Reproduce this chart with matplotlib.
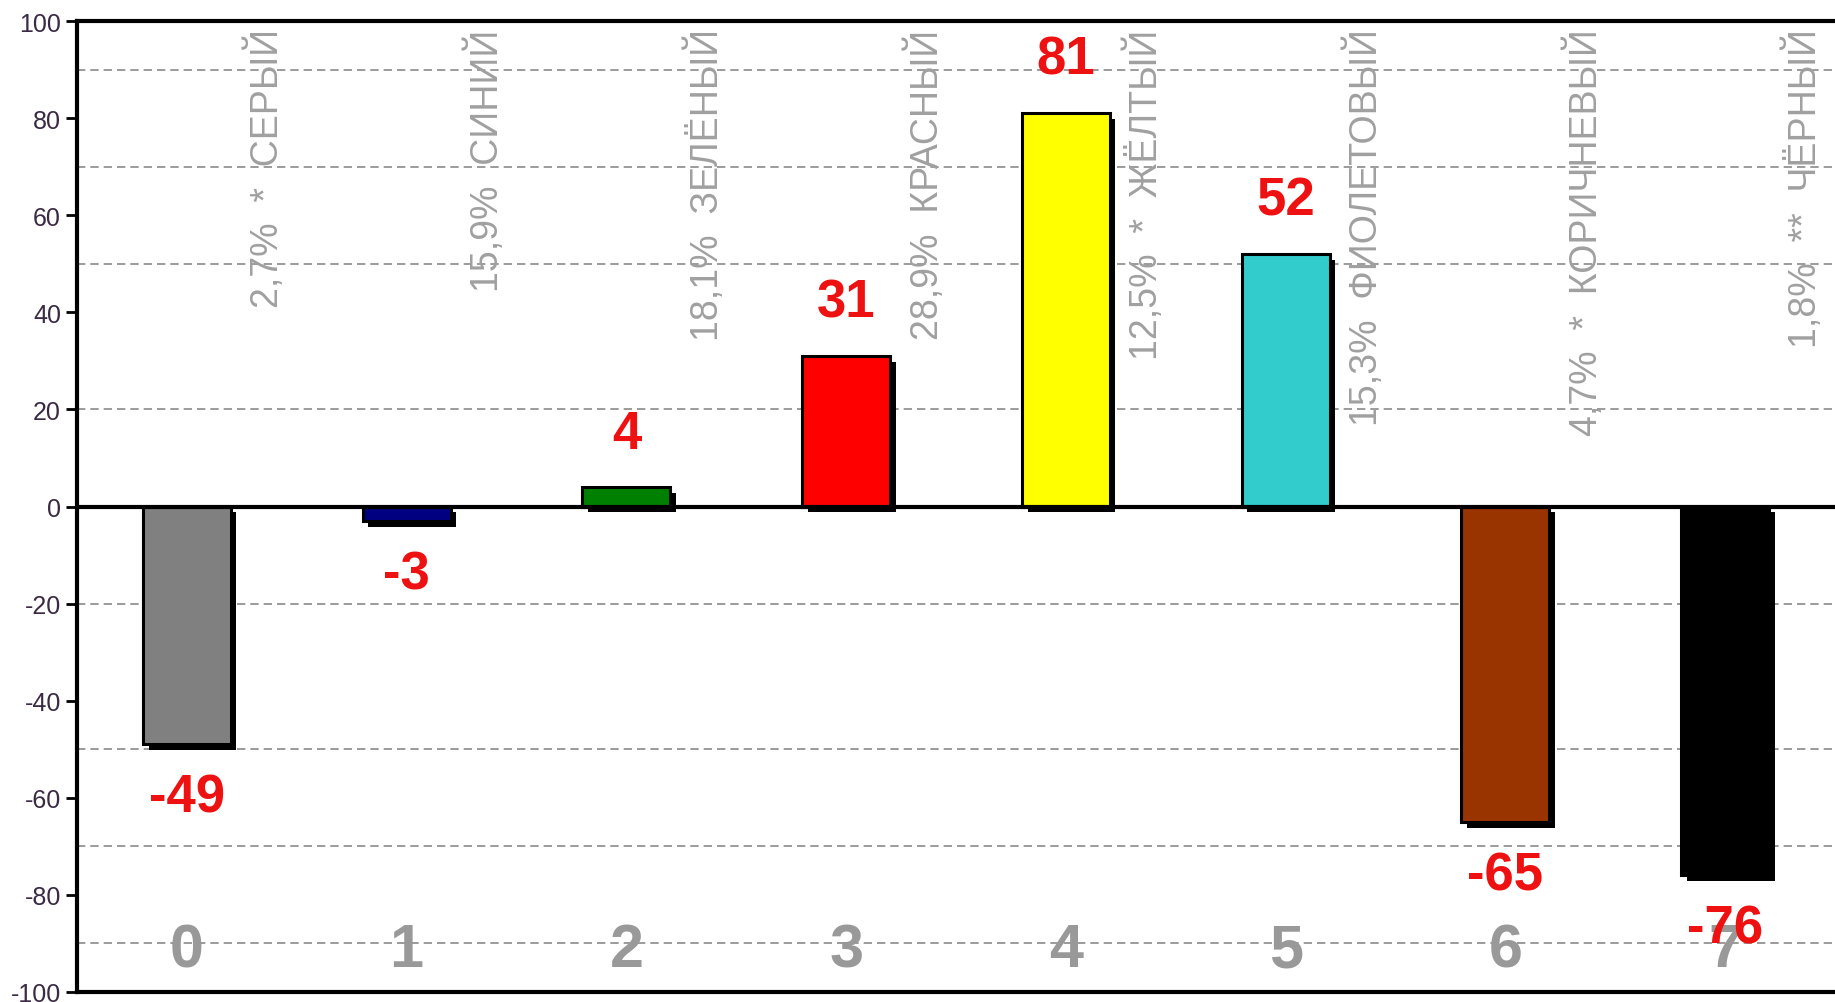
import matplotlib
matplotlib.use("Agg")
import matplotlib.pyplot as plt
import matplotlib.patheffects as pe

plt.rcParams['font.family'] = ['Liberation Sans', 'DejaVu Sans']
plt.rcParams['axes.unicode_minus'] = False

# Данные
categories = ["0", "1", "2", "3", "4", "5", "6", "7"]
values = [-49, -3, 4, 31, 81, 52, -65, -76]
percents = ["2,7%", "15,9%", "18,1%", "28,9%", "12,5%", "15,3%", "4,7%", "1,8%"]
marks = ["*", "", "", "", "*", "", "*", "**"]
names = ["СЕРЫЙ", "СИНИЙ", "ЗЕЛЁНЫЙ", "КРАСНЫЙ", "ЖЁЛТЫЙ", "ФИОЛЕТОВЫЙ", "КОРИЧНЕВЫЙ", "ЧЁРНЫЙ"]
bar_colors = ["#808080", "#000080", "#008000", "#ff0000", "#ffff00", "#33cccc", "#993300", "#000000"]
grid_levels = [90, 70, 50, 20, -20, -50, -70, -90]
y_ticks = list(range(-100, 101, 20))

fig = plt.figure(figsize=(18.35, 10.03), dpi=100)
ax = fig.add_axes([0.042, 0.01, 0.958, 0.968])

x = list(range(len(values)))

for g in grid_levels:
    ax.axhline(g, color="#8a8a8a", lw=1.2, ls=(0, (5, 3)), zorder=0)

bars = ax.bar(x, values, width=0.4, color=bar_colors, edgecolor="black", linewidth=2.2, zorder=3)
for b in bars:
    b.set_path_effects([pe.SimplePatchShadow(offset=(4, -4), shadow_rgbFace="black", alpha=1), pe.Normal()])

ax.axhline(0, color="black", lw=3, zorder=4)

# подписи значений
for i, v in enumerate(values):
    off = 11 if v >= 0 else -11
    ax.text(i, v + off, str(v), color="#ee1111", fontsize=38, fontweight="bold",
            ha="center", va="center", zorder=6)

# повернутые подписи
for i in x:
    if marks[i]:
        lab = f"{percents[i]}  {marks[i]}  {names[i]}"
    else:
        lab = f"{percents[i]}  {names[i]}"
    ax.text(i + 0.36, 98.5, lab, rotation=90, ha="center", va="top",
            color="#a0a0a0", fontsize=27, zorder=5)

# номера категорий
for i, c in enumerate(categories):
    ax.text(i, -91.5, c, color="#999999", fontsize=44, fontweight="bold",
            ha="center", va="center", zorder=5)

ax.set_xlim(-0.5, 7.5)
ax.set_ylim(-100, 100)
ax.set_xticks([])
ax.set_yticks(y_ticks)
ax.tick_params(axis="y", labelsize=18, labelcolor="#3a2a44", length=8, width=2, direction="out")

for s in ["left", "top", "bottom"]:
    ax.spines[s].set_linewidth(3)
ax.spines["right"].set_visible(False)

fig.savefig("out.png", dpi=100)
